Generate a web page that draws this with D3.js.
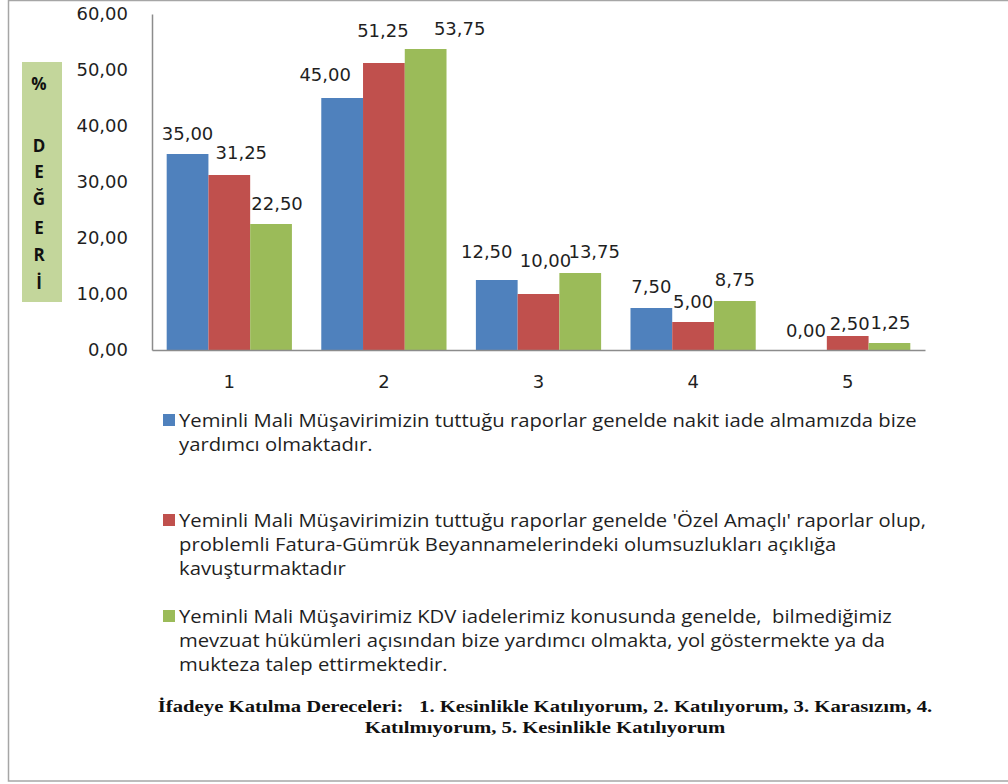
<!DOCTYPE html>
<html>
<head>
<meta charset="utf-8">
<script src="https://cdn.jsdelivr.net/npm/d3@7"></script>
<style>
  html, body { margin: 0; padding: 0; background: #fff; }
  svg { display: block; }
  svg text { white-space: pre; }
</style>
</head>
<body>
<svg id="chart" width="1008" height="784"></svg>
<script>
// Agreement levels (1 = strongly agree ... 5) on the x axis
const categories = ["1", "2", "3", "4", "5"];

// Percentages for each statement
const seriesBlue  = [35.00, 45.00, 12.50, 7.50, 0.00];
const seriesRed   = [31.25, 51.25, 10.00, 5.00, 2.50];
const seriesGreen = [22.50, 53.75, 13.75, 8.75, 1.25];

const seriesNames = [
  "Yeminli Mali Müşavirimizin tuttuğu raporlar genelde nakit iade almamızda bize\nyardımcı olmaktadır.",
  "Yeminli Mali Müşavirimizin tuttuğu raporlar genelde 'Özel Amaçlı' raporlar olup,\nproblemli Fatura-Gümrük Beyannamelerindeki olumsuzlukları açıklığa\nkavuşturmaktadır",
  "Yeminli Mali Müşavirimiz KDV iadelerimiz konusunda genelde,  bilmediğimiz\nmevzuat hükümleri açısından bize yardımcı olmakta, yol göstermekte ya da\nmukteza talep ettirmektedir."
];

const yTicks = [0, 10, 20, 30, 40, 50, 60];
const yTitleLetters = ["%", "D", "E", "Ğ", "E", "R", "İ"];

const footnoteLines = [
  "İfadeye Katılma Dereceleri:   1. Kesinlikle Katılıyorum, 2. Katılıyorum, 3. Karasızım, 4.",
  "Katılmıyorum, 5. Kesinlikle Katılıyorum"
];

// ---- styling / layout ----
const colors = ["#4f81bd", "#c0504d", "#9bbb59"];
// hand-placed label nudges [series][category] as [dx, dy]
const labelNudge = [
  [[0, 0], [-17, -3], [-10, -8], [0, -1], [0, 1]],
  [[12, -2], [-1, -12], [7, -13], [0, 0], [2, 8]],
  [[6, 0], [34, 0], [14, -1], [0, -1], [1, 0]]
];

const svg = d3.select("#chart");
const numFont = "'DejaVu Sans', Verdana, sans-serif";
const textColor = "#1f1f1f";
const axisColor = "#8c8c8c";

const locale = d3.formatLocale({ decimal: ",", thousands: ".", grouping: [3], currency: ["", ""] });
const fmt = locale.format(".2f");

// outer frame
svg.append("rect")
  .attr("x", 8.5).attr("y", 0.5)
  .attr("width", 1010).attr("height", 780.5)
  .attr("fill", "none").attr("stroke", "#a6a6a6").attr("stroke-width", 1.5);

const plot = { left: 152, right: 925, top: 14, bottom: 350 };

const x0 = d3.scaleBand()
  .domain(categories)
  .range([plot.left, plot.right])
  .paddingInner(0.19)
  .paddingOuter(0.095);

const series = [seriesBlue, seriesRed, seriesGreen];
const x1 = d3.scaleBand()
  .domain(d3.range(series.length))
  .range([0, x0.bandwidth()]);

const y = d3.scaleLinear().domain([0, 60]).range([plot.bottom, plot.top]);

// y axis
const yAxis = svg.append("g")
  .attr("transform", `translate(${plot.left},0)`)
  .call(d3.axisLeft(y).tickValues(yTicks).tickFormat(fmt).tickSize(0).tickPadding(24));
yAxis.select(".domain").attr("stroke", axisColor).attr("stroke-width", 1.5);
yAxis.selectAll("text")
  .attr("font-family", numFont).attr("font-size", 18).attr("fill", textColor);

// bars
const groups = svg.append("g").selectAll("g")
  .data(series)
  .join("g")
  .attr("fill", (d, i) => colors[i]);

groups.each(function (vals, si) {
  d3.select(this).selectAll("rect")
    .data(vals.map((v, ci) => ({ v, c: categories[ci] })))
    .join("rect")
    .attr("x", d => x0(d.c) + x1(si))
    .attr("y", d => y(d.v))
    .attr("width", x1.bandwidth())
    .attr("height", d => y(0) - y(d.v));
});

// x axis
const xAxis = svg.append("g")
  .attr("transform", `translate(0,${plot.bottom})`)
  .call(d3.axisBottom(x0).tickSize(0).tickPadding(25));
xAxis.select(".domain").attr("stroke", axisColor).attr("stroke-width", 1.5);
xAxis.selectAll("text")
  .attr("font-family", numFont).attr("font-size", 18).attr("fill", textColor);

// value labels
series.forEach((vals, si) => {
  svg.append("g").selectAll("text")
    .data(vals.map((v, ci) => ({ v, ci })))
    .join("text")
    .attr("x", d => x0(categories[d.ci]) + x1(si) + x1.bandwidth() / 2 + labelNudge[si][d.ci][0])
    .attr("y", d => y(d.v) - 14 + labelNudge[si][d.ci][1])
    .attr("text-anchor", "middle")
    .attr("font-family", numFont).attr("font-size", 18).attr("fill", textColor)
    .text(d => fmt(d.v));
});

// y title box
svg.append("rect")
  .attr("x", 22).attr("y", 62).attr("width", 40).attr("height", 240)
  .attr("fill", "#c3d69b");
const titleY = [90, 152, 178, 205, 234, 261, 289];
svg.append("g").selectAll("text")
  .data(yTitleLetters)
  .join("text")
  .attr("x", 39)
  .attr("y", (d, i) => titleY[i])
  .attr("text-anchor", "middle")
  .style("font-family", "'Open Sans', 'DejaVu Sans', sans-serif")
  .style("font-weight", "bold")
  .style("font-size", "17px")
  .attr("fill", "#111")
  .text(d => d);

// legend
const legendBase = [427, 527, 623];
const legendLine = 24;
const legend = svg.append("g");
const legendTexts = [];
seriesNames.forEach((name, i) => {
  legend.append("rect")
    .attr("x", 163).attr("y", legendBase[i] - 13)
    .attr("width", 12).attr("height", 12)
    .attr("fill", colors[i]);
  name.split("\n").forEach((line, li) => {
    const t = legend.append("text")
      .attr("x", 179).attr("y", legendBase[i] + li * legendLine)
      .attr("font-family", "'Open Sans', sans-serif")
      .attr("font-size", 18).attr("fill", textColor)
      .text(line);
    legendTexts.push(t);
  });
});
// squeeze legend text so the first line runs to x = 917
const lw = legendTexts[0].node().getComputedTextLength();
const lsx = 738 / lw;
legendTexts.forEach(t => t.attr("transform", `translate(179,0) scale(${lsx},1) translate(-179,0)`));

// footnote
const footG = svg.append("g");
const footTexts = footnoteLines.map((line, i) =>
  footG.append("text")
    .attr("x", 545).attr("y", 712 + i * 21)
    .attr("text-anchor", "middle")
    .attr("font-family", "'Liberation Serif', 'Times New Roman', serif")
    .attr("font-weight", "bold").attr("font-size", 16.5).attr("fill", "#111")
    .text(line));
const fw = footTexts[0].node().getComputedTextLength();
const fsx = 775 / fw;
footTexts.forEach(t => t.attr("transform", `translate(545,0) scale(${fsx},1) translate(-545,0)`));
</script>
</body>
</html>
